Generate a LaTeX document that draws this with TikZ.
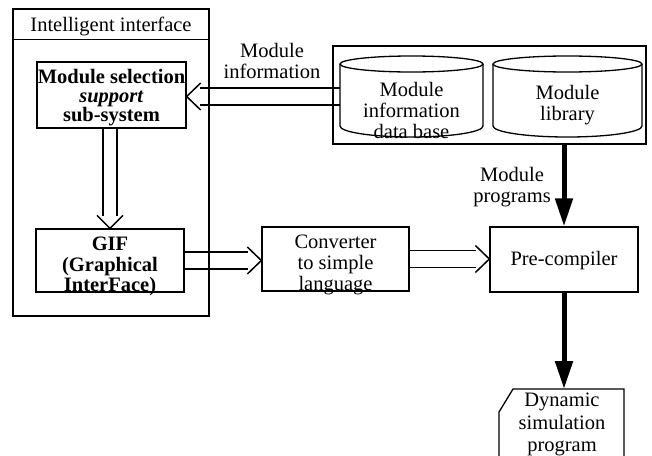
\documentclass[tikz,border=0pt]{standalone}
\usepackage{fontspec}
\setmainfont{Liberation Serif}
\usetikzlibrary{arrows.meta}
\newcommand\hollowH[3]{% #1 start coord name, #2 tip coord name, #3 direction (1 right, -1 left)
  \draw[hol] ([yshift=8.5pt]#1) -- ([xshift=#3*-13pt,yshift=8.5pt]#2);
  \draw[hol] ([yshift=-8.5pt]#1) -- ([xshift=#3*-13pt,yshift=-8.5pt]#2);
  \draw[hol] ([xshift=#3*-14pt,yshift=13.5pt]#2) -- (#2) -- ([xshift=#3*-14pt,yshift=-13.5pt]#2);}
\newcommand\hollowDown[2]{% #1 start, #2 tip
  \draw[hol] ([xshift=7pt]#1) -- ([xshift=7pt,yshift=12pt]#2);
  \draw[hol] ([xshift=-7pt]#1) -- ([xshift=-7pt,yshift=12pt]#2);
  \draw[hol] ([xshift=-13pt,yshift=13pt]#2) -- (#2) -- ([xshift=13pt,yshift=13pt]#2);}
\begin{document}
\begin{tikzpicture}[x=1pt,y=-1pt,
  box/.style={draw, line width=1.3pt, inner sep=0pt},
  txt/.style={inner sep=0pt, align=center, font=\fontsize{20.5}{21}\selectfont},
  boxline/.style={line width=1.3pt, line join=miter},
  hol/.style={line width=1.5pt, line join=miter},
  thickarrow/.style={line width=5pt, -{Triangle[length=28pt,width=17pt]}}]
\useasboundingbox[fill=white] (0,0) rectangle (652,455);

% Intelligent interface frame
\node[box, minimum width=196pt, minimum height=307pt] (iface) at (111,162.5) {};
\draw[boxline] ([yshift=-31pt]iface.north west) -- ([yshift=-31pt]iface.north east);
\node[txt] (ifacetitle) at (111,26) {Intelligent interface};

% Boxes
\node[box, minimum width=149pt, minimum height=66pt] (modsel) at (111.5,95) {};
\node[txt, font=\fontsize{20.5}{19}\selectfont] (modseltxt) at (111.5,98)
  {\textbf{Module selection}\\\textbf{\textit{support}}\\\textbf{sub-system}};
\node[box, minimum width=148pt, minimum height=63pt] (gif) at (110,260.5) {};
\node[txt, font=\fontsize{20.5}{20.5}\selectfont] (giftxt) at (110,266.5)
  {\textbf{GIF}\\\textbf{(Graphical}\\\textbf{InterFace)}};
\node[box, minimum width=147pt, minimum height=64pt] (conv) at (335.5,259) {};
\node[txt] (convtxt) at (335.5,265) {Converter\\to simple\\language};
\node[box, minimum width=148pt, minimum height=65pt] (prec) at (564,259.5) {};
\node[txt] (prectxt) at (564,261) {Pre-compiler};

% Database frame with two cylinders
\node[box, minimum width=313pt, minimum height=98pt] (dbrect) at (489.5,95) {};
\draw[boxline] (340,64) -- (340,126) arc[start angle=180,end angle=360,x radius=71.5pt,y radius=11pt] -- (483,64);
\draw[boxline] (411.5,64) ellipse[x radius=71.5pt, y radius=8pt];
\draw[boxline] (493,64) -- (493,126) arc[start angle=180,end angle=360,x radius=74.5pt,y radius=11pt] -- (642,64);
\draw[boxline] (567.5,64) ellipse[x radius=74.5pt, y radius=8pt];
\node[txt] (infodb) at (411.5,110) {Module\\information\\data base};
\node[txt] (lib) at (567.5,105) {Module\\library};
\coordinate (infodbw) at (340,96.5);

% Dynamic simulation program document
\node[txt, anchor=north, font=\fontsize{20.5}{22.5}\selectfont] (dyn) at (562,393) {Dynamic\\simulation\\program};
\draw[boxline] (513,389) -- (624,389) -- (624,470) -- (499,470) -- (499,412) -- cycle;
\coordinate (dyntop) at (562,389);

% Labels
\node[txt] (lblinfo) at (272,61) {Module\\information};
\node[txt] (lblprog) at (512,187) {Module\\programs};

% Hollow double arrows
\coordinate (t1) at (infodbw -| modsel.east);
\hollowH{infodbw}{t1}{-1}
\coordinate (s2) at (modsel.south -| gif.north);
\hollowDown{s2}{gif.north}
\coordinate (t3) at (gif.east -| conv.west);
\hollowH{gif.east}{t3}{1}
\coordinate (t4) at (conv.east -| prec.west);
\hollowH{conv.east}{t4}{1}

% Thick arrows
\draw[thickarrow] (dbrect.south -| prec.north) -- (prec.north);
\draw[thickarrow] (prec.south) -- (prec.south |- dyntop);
\end{tikzpicture}
\end{document}
